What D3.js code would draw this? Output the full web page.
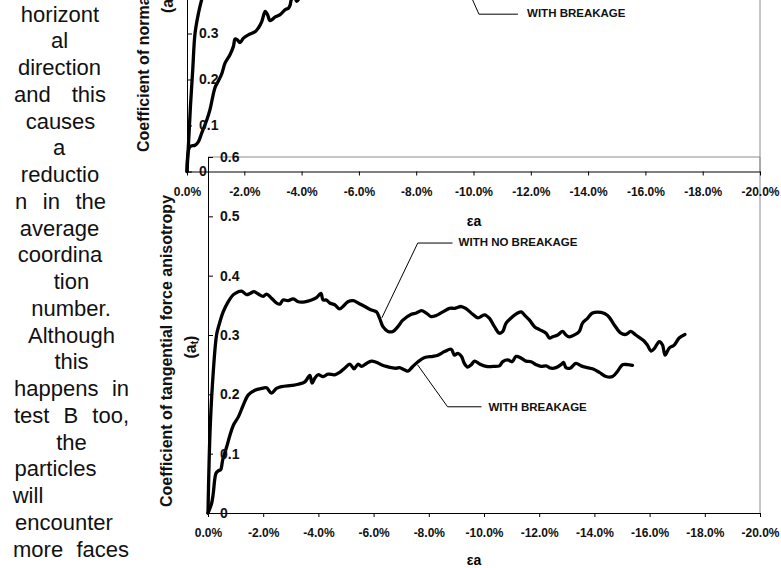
<!DOCTYPE html>
<html>
<head>
<meta charset="utf-8">
<script src="https://cdn.jsdelivr.net/npm/d3@7"></script>
<style>
    body { margin: 0; background: #fff; }
    svg { display: block; }
    text { font-family: "Liberation Sans", Arial, sans-serif; }
</style>
</head>
<body>
<svg id="page" width="781" height="568"></svg>
<script>
//Shared axis values
var strainTicks = [0, -2, -4, -6, -8, -10, -12, -14, -16, -18, -20];
var anisotropyTicks = [0, 0.1, 0.2, 0.3, 0.4, 0.5, 0.6];
//Only the lower ticks of the upper chart are on the page
var upperAnisotropyTicks = [0, 0.1, 0.2, 0.3];

//Upper chart (normal force anisotropy), only its lower part is on the page
var normalNoBreakStrain = [0, -0.06, -0.12, -0.20, -0.28, -0.40, -0.51, -0.66];
var normalNoBreakValue = [0, 0.069, 0.141, 0.221, 0.300, 0.344, 0.373, 0.405];

var normalBreakStrain = [0, -0.105, -0.28, -0.40, -0.51, -0.69, -0.80, -0.90, -0.98, -1.09, -1.21, -1.33, -1.50, -1.62, -1.68, -1.76, -1.85, -1.97, -2.14, -2.38, -2.49, -2.61, -2.73, -2.81, -2.90, -3.08, -3.25, -3.43, -3.54, -3.60, -3.64, -3.75, -3.83, -3.90, -4.00];
var normalBreakValue = [0, 0.054, 0.057, 0.065, 0.083, 0.112, 0.134, 0.163, 0.183, 0.196, 0.212, 0.236, 0.254, 0.272, 0.288, 0.286, 0.280, 0.290, 0.297, 0.304, 0.312, 0.326, 0.348, 0.341, 0.328, 0.336, 0.341, 0.352, 0.355, 0.362, 0.373, 0.380, 0.370, 0.375, 0.390];

//Lower chart (tangential force anisotropy)
var tangNoBreakStrain = [0, -0.07, -0.16, -0.31, -0.40, -0.55, -0.73, -0.92, -1.10, -1.22, -1.40, -1.52, -1.67, -1.82, -2.00, -2.12, -2.30, -2.48, -2.60, -2.72, -2.90, -3.09, -3.27, -3.51, -3.75, -3.93, -4.09, -4.17, -4.29, -4.41, -4.59, -4.77, -4.89, -5.07, -5.26, -5.44, -5.68, -5.92, -6.10, -6.22, -6.34, -6.52, -6.70, -6.88, -7.06, -7.37, -7.55, -7.73, -7.91, -8.09, -8.27, -8.51, -8.75, -8.93, -9.18, -9.36, -9.59, -9.78, -10.02, -10.20, -10.38, -10.56, -10.68, -10.80, -11.04, -11.22, -11.35, -11.46, -11.65, -11.83, -12.01, -12.25, -12.37, -12.49, -12.67, -12.85, -12.97, -13.09, -13.27, -13.45, -13.57, -13.75, -13.93, -14.24, -14.48, -14.72, -14.96, -15.14, -15.32, -15.50, -15.80, -15.92, -16.05, -16.17, -16.35, -16.47, -16.56, -16.71, -16.89, -17.07, -17.28];
var tangNoBreakValue = [0, 0.132, 0.216, 0.300, 0.317, 0.339, 0.356, 0.368, 0.373, 0.374, 0.368, 0.370, 0.373, 0.369, 0.365, 0.369, 0.362, 0.354, 0.352, 0.359, 0.358, 0.361, 0.356, 0.356, 0.359, 0.363, 0.370, 0.359, 0.359, 0.354, 0.351, 0.344, 0.348, 0.356, 0.358, 0.354, 0.348, 0.342, 0.339, 0.328, 0.314, 0.306, 0.306, 0.314, 0.325, 0.335, 0.337, 0.341, 0.337, 0.331, 0.333, 0.339, 0.345, 0.345, 0.348, 0.344, 0.335, 0.329, 0.334, 0.328, 0.314, 0.303, 0.306, 0.320, 0.331, 0.337, 0.339, 0.334, 0.325, 0.314, 0.309, 0.303, 0.295, 0.297, 0.300, 0.306, 0.300, 0.297, 0.300, 0.306, 0.320, 0.328, 0.337, 0.338, 0.333, 0.317, 0.303, 0.301, 0.306, 0.300, 0.290, 0.283, 0.273, 0.277, 0.289, 0.283, 0.266, 0.278, 0.283, 0.295, 0.301];

var tangBreakStrain = [0, -0.13, -0.19, -0.29, -0.37, -0.46, -0.53, -0.68, -0.80, -0.92, -1.10, -1.28, -1.46, -1.70, -1.94, -2.12, -2.30, -2.48, -2.67, -3.03, -3.27, -3.51, -3.69, -3.77, -3.87, -3.99, -4.17, -4.35, -4.59, -4.77, -4.95, -5.14, -5.29, -5.44, -5.56, -5.74, -5.92, -6.10, -6.28, -6.46, -6.64, -6.82, -6.94, -7.09, -7.24, -7.42, -7.61, -7.85, -8.15, -8.33, -8.57, -8.81, -8.93, -9.05, -9.18, -9.29, -9.41, -9.54, -9.66, -9.84, -10.08, -10.32, -10.56, -10.68, -10.86, -11.02, -11.16, -11.35, -11.53, -11.71, -11.89, -12.07, -12.25, -12.43, -12.61, -12.79, -12.88, -12.97, -13.12, -13.33, -13.52, -13.75, -13.93, -14.18, -14.42, -14.66, -14.84, -15.02, -15.20, -15.38];
var tangBreakValue = [0, 0.016, 0.033, 0.067, 0.071, 0.073, 0.089, 0.112, 0.132, 0.148, 0.162, 0.182, 0.199, 0.207, 0.210, 0.211, 0.202, 0.210, 0.213, 0.215, 0.217, 0.221, 0.232, 0.219, 0.227, 0.233, 0.230, 0.234, 0.233, 0.237, 0.244, 0.251, 0.243, 0.251, 0.247, 0.252, 0.256, 0.254, 0.250, 0.247, 0.245, 0.244, 0.245, 0.242, 0.239, 0.247, 0.255, 0.262, 0.264, 0.266, 0.272, 0.276, 0.266, 0.269, 0.264, 0.252, 0.246, 0.250, 0.256, 0.251, 0.247, 0.247, 0.248, 0.255, 0.258, 0.255, 0.264, 0.261, 0.256, 0.255, 0.250, 0.247, 0.248, 0.244, 0.245, 0.250, 0.254, 0.245, 0.244, 0.252, 0.248, 0.245, 0.243, 0.237, 0.230, 0.230, 0.239, 0.250, 0.250, 0.249];

//Body text of the page column on the left, with the span each line is set over
var bodyLines = ["horizont", "al", "direction", "and this", "causes", "a", "reductio", "n in the", "average", "coordina", "tion", "number.", "Although", "this", "happens in", "test B too,", "the", "particles", "will", "encounter", "more faces"];
var bodySpans = [[19, 101], [51, 68], [16, 103], [14, 106], [24, 97], [53, 65], [20, 100], [15, 106], [18, 101], [16, 104], [53, 90], [29, 113], [26, 117], [54, 89], [14, 129], [14, 129], [56, 87], [13, 98], [13, 43], [13, 115], [13, 129]];

var svg = d3.select("#page");
var fmtStrain = function (d) { return d.toFixed(1) + "%"; };
var fmtAniso = function (d) { return d === 0 ? "0" : d.toFixed(1); };

//Left text column, justified like the scanned page
var body = svg.append("g").attr("font-size", 22).attr("fill", "#111");
bodyLines.forEach(function (line, i) {
    var y = 21.7 + i * 26.75;
    var x1 = bodySpans[i][0], x2 = bodySpans[i][1];
    var words = line.split(" ");
    if (words.length === 1) {
        body.append("text").attr("x", (x1 + x2) / 2).attr("y", y)
            .attr("text-anchor", "middle").text(line);
        return;
    }
    var nodes = words.map(function (w) {
        return body.append("text").attr("y", y).text(w);
    });
    var widths = nodes.map(function (n) { return n.node().getComputedTextLength(); });
    var gap = (x2 - x1 - d3.sum(widths)) / (words.length - 1);
    var x = x1;
    nodes.forEach(function (n, k) {
        n.attr("x", x);
        x += widths[k] + gap;
    });
});

//Draw one chart: axes, border, the two curves
function drawChart(x, y, series, opts) {
    var g = svg.append("g");

    //Thin grey frame on the top and right
    g.append("line")
        .attr("x1", x.range()[1]).attr("x2", x.range()[1])
        .attr("y1", y.range()[1]).attr("y2", y.range()[0])
        .attr("stroke", "#8c8c8c").attr("stroke-width", 1);
    if (opts.topBorder) {
        g.append("line")
            .attr("x1", x.range()[0]).attr("x2", x.range()[1])
            .attr("y1", y.range()[1]).attr("y2", y.range()[1])
            .attr("stroke", "#8c8c8c").attr("stroke-width", 1);
    }

    var line = d3.line()
        .x(function (d) { return x(d[0]); })
        .y(function (d) { return y(d[1]); })
        .curve(d3.curveCatmullRom.alpha(0.5));

    series.forEach(function (s) {
        g.append("path")
            .datum(d3.zip(s.strain, s.value))
            .attr("d", line)
            .attr("fill", "none")
            .attr("stroke", "#000")
            .attr("stroke-width", 3.3)
            .attr("stroke-linejoin", "round")
            .attr("stroke-linecap", "round");
    });

    var xAxis = g.append("g")
        .attr("transform", "translate(0," + y(0) + ")")
        .call(d3.axisBottom(x).tickValues(strainTicks).tickFormat(fmtStrain)
            .tickSize(4).tickSizeOuter(0).tickPadding(opts.xPad));
    xAxis.selectAll("text").attr("font-size", 12).attr("font-weight", "bold").attr("fill", "#111");

    var yAxis = g.append("g")
        .attr("transform", "translate(" + x(0) + ",0)")
        .call(d3.axisRight(y).tickValues(opts.yTicks).tickFormat(fmtAniso)
            .tickSize(5).tickSizeOuter(0).tickPadding(7));
    yAxis.selectAll("text").attr("font-size", 14).attr("font-weight", "bold").attr("fill", "#111");

    g.selectAll(".domain, .tick line").attr("stroke", "#000");

    //Callouts: leader line and label, placed in data units
    opts.callouts.forEach(function (c) {
        g.append("path")
            .attr("d", d3.line()(c.path.map(function (p) { return [x(p[0]), y(p[1])]; })))
            .attr("fill", "none").attr("stroke", "#000").attr("stroke-width", 1);
        g.append("text")
            .attr("x", x(c.at[0])).attr("y", y(c.at[1]))
            .attr("font-size", 11.5).attr("font-weight", "bold").attr("fill", "#111")
            .text(c.label);
    });

    //x axis title
    g.append("text")
        .attr("x", opts.xTitle[0]).attr("y", opts.xTitle[1])
        .attr("text-anchor", "middle").attr("font-size", 14).attr("font-weight", "bold")
        .text("\u03b5a");

    //y axis title and symbol, rotated
    g.append("text")
        .attr("transform", "translate(" + opts.yTitle[0] + "," + opts.yTitle[1] + ") rotate(-90)")
        .attr("font-size", 16).attr("font-weight", "bold").attr("fill", "#111")
        .text(opts.yTitleText);
    var ys = g.append("text")
        .attr("transform", "translate(" + opts.ySymbol[0] + "," + opts.ySymbol[1] + ") rotate(-90)")
        .attr("text-anchor", opts.ySymbolAnchor)
        .attr("font-size", 16).attr("font-weight", "bold").attr("fill", "#111");
    ys.append("tspan").text("(a");
    ys.append("tspan").attr("font-size", 10).attr("dy", 2).text(opts.subscript);
    ys.append("tspan").attr("dy", -2).text(")");
}

//Lower chart first, the upper chart's axis sits over its frame
var botX = d3.scaleLinear().domain([0, -20]).range([208, 760]);
var botY = d3.scaleLinear().domain([0, 0.6]).range([513, 157]);
drawChart(botX, botY, [
    { strain: tangNoBreakStrain, value: tangNoBreakValue },
    { strain: tangBreakStrain, value: tangBreakValue }
], {
    topBorder: true,
    xPad: 11,
    yTicks: anisotropyTicks,
    xTitle: [474, 565],
    yTitle: [172, 507],
    yTitleText: "Coefficient of tangential force anisotropy",
    ySymbol: [196, 347],
    ySymbolAnchor: "middle",
    subscript: "t",
    callouts: [
        { path: [[-6.30, 0.329], [-7.60, 0.455], [-8.86, 0.455]], at: [-9.08, 0.450], label: "WITH NO BREAKAGE" },
        { path: [[-7.59, 0.250], [-8.68, 0.179], [-9.91, 0.179]], at: [-10.16, 0.172], label: "WITH BREAKAGE" }
    ]
});

var topX = d3.scaleLinear().domain([0, -20]).range([187, 760]);
var topY = d3.scaleLinear().domain([0, 0.6]).range([171.5, -104.5]);
drawChart(topX, topY, [
    { strain: normalNoBreakStrain, value: normalNoBreakValue },
    { strain: normalBreakStrain, value: normalBreakValue }
], {
    topBorder: false,
    xPad: 12,
    yTicks: upperAnisotropyTicks,
    xTitle: [474, 226],
    yTitle: [149, 152],
    yTitleText: "Coefficient of normal force anisotropy",
    ySymbol: [173, 13],
    ySymbolAnchor: "start",
    subscript: "n",
    callouts: [
        { path: [[-9.74, 0.405], [-10.19, 0.342], [-11.55, 0.342]], at: [-11.87, 0.335], label: "WITH BREAKAGE" }
    ]
});
</script>
</body>
</html>
